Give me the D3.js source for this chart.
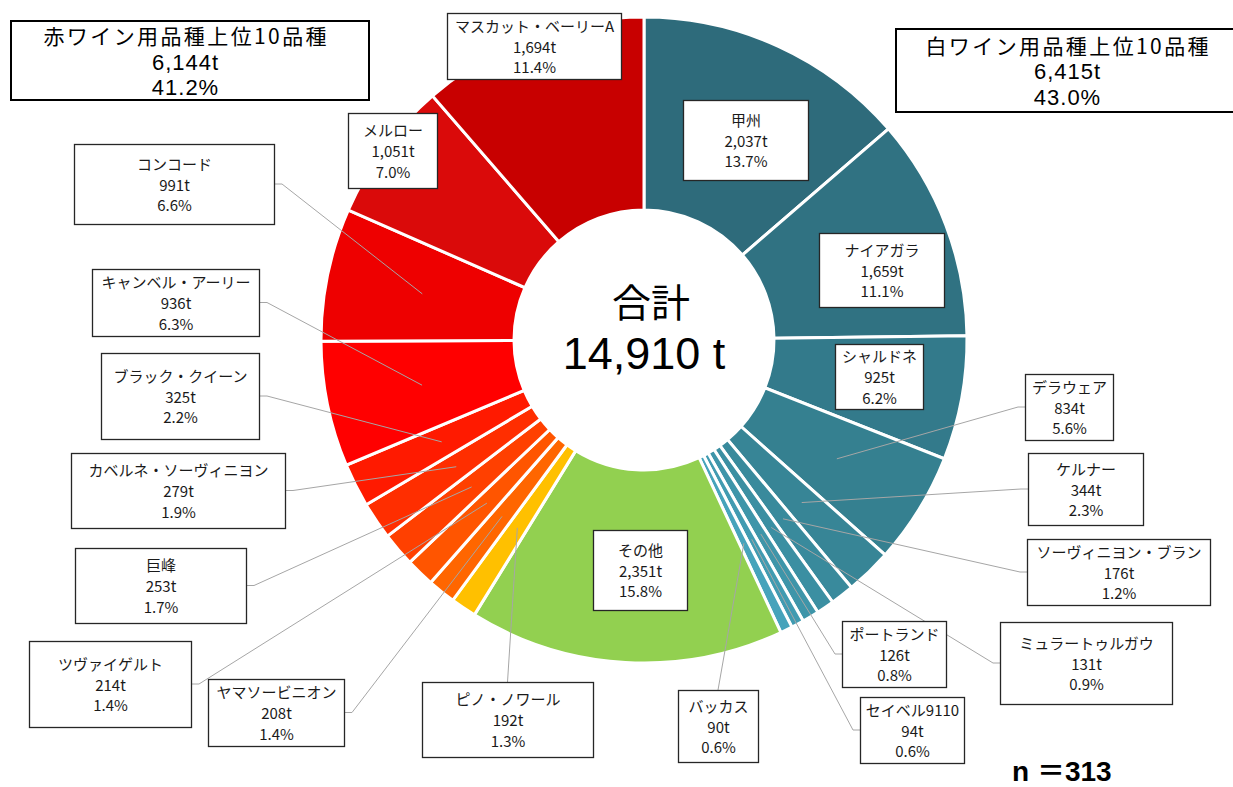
<!DOCTYPE html>
<html><head><meta charset="utf-8">
<script src="https://cdn.jsdelivr.net/npm/d3@7"></script>
<style>
html,body{margin:0;padding:0;background:#fff;}
svg{display:block;font-family:"Noto Sans CJK JP","Noto Sans",sans-serif;}
</style></head>
<body>
<svg id="chart" width="1233" height="787"></svg>
<script>
// ---- data (clockwise from 12 o'clock) ----
const varieties = ["甲州","ナイアガラ","シャルドネ","デラウェア","ケルナー","ソーヴィニヨン・ブラン","ミュラートゥルガウ","ポートランド","セイベル9110","バッカス","その他","ピノ・ノワール","ヤマソービニオン","ツヴァイゲルト","巨峰","カベルネ・ソーヴィニヨン","ブラック・クイーン","キャンベル・アーリー","コンコード","メルロー","マスカット・ベーリーA"];
const tonnage = [2037,1659,925,834,344,176,131,126,94,90,2351,192,208,214,253,279,325,936,991,1051,1694];
const groupNames = ["赤ワイン用品種上位10品種","白ワイン用品種上位10品種"];
const groupTotals = [6144,6415];
const totalLabel = "合計";
const sampleSize = 313;

// ---- styles ----
const sliceColors = ["#2E6B7B","#307282","#337A8B","#358090","#378596","#398A9C","#3B8FA2","#3E95A9","#419BB1","#46A3BB",
  "#92D050",
  "#FFC000","#FF6600","#FF5500","#FF4000","#FF2E00","#FF1A00","#FF0000","#EE0000","#DA0A0A","#C80000"];
const latinFont = "'Liberation Sans','Noto Sans CJK JP',sans-serif";

// ---- label layout: [x, y, w, h], leader side ----
const labelLayout = [
  {box:[683,100,125,80], leader:null},
  {box:[819,233,125,74], leader:null},
  {box:[835,344,88,65], leader:null},
  {box:[1025,374,88,66], leader:"left"},
  {box:[1028,453,115,72], leader:"left"},
  {box:[1027,539,183,66], leader:"left"},
  {box:[1000,622,172,82], leader:"left"},
  {box:[842,621,104,66], leader:"left"},
  {box:[860,697,104,66], leader:"left"},
  {box:[678,690,80,72], leader:"top"},
  {box:[593,530,94,80], leader:null},
  {box:[422,682,171,75], leader:"top"},
  {box:[208,679,136,67], leader:"right"},
  {box:[29,641,162,86], leader:"right"},
  {box:[75,548,171,75], leader:"right"},
  {box:[71,453,214,75], leader:"right"},
  {box:[101,353,158,86], leader:"right"},
  {box:[92,269,167,67], leader:"right"},
  {box:[74,144,200,80], leader:"right"},
  {box:[348,113,89,75], leader:null},
  {box:[447,13,174,66], leader:null}
];
const headerLayout = [
  {box:[10,20,358,79], tx:185, ys:[35,62,87]},
  {box:[895,28,350,83], tx:1067, ys:[45,71,97]}
];

const svg = d3.select("#chart");
const cx = 644, cy = 340, rOuter = 323, rInner = 130;
const total = d3.sum(tonnage);
const fmtInt = d3.format(",");
const fmtPct = d3.format(".1f");

const data = varieties.map((name,i)=>({name, value:tonnage[i], i}));
const pie = d3.pie().sort(null).value(d=>d.value).startAngle(0).endAngle(2*Math.PI);
const arcs = pie(data);
const arc = d3.arc().innerRadius(rInner).outerRadius(rOuter);

const g = svg.append("g").attr("transform",`translate(${cx},${cy})`);
g.selectAll("path.slice").data(arcs).join("path")
  .attr("class","slice")
  .attr("d",arc)
  .attr("fill",d=>sliceColors[d.data.i])
  .attr("stroke","#fff").attr("stroke-width",3).attr("stroke-linejoin","miter");

// center text
g.append("text").attr("x",7).attr("y",-40).attr("text-anchor","middle")
  .attr("dominant-baseline","central").attr("font-size",39).attr("fill","#000").text(totalLabel);
g.append("text").attr("x",0).attr("y",29).attr("text-anchor","middle")
  .style("font-family",latinFont).attr("font-size",45).attr("fill","#000")
  .text(fmtInt(total)+" t");

// leaders
const leaderG = svg.append("g");
arcs.forEach(a=>{
  const L = labelLayout[a.data.i];
  if(!L.leader) return;
  const [x,y,w,h] = L.box;
  const c = arc.centroid(a);
  const px = cx + c[0], py = cy + c[1];
  let pts;
  if(L.leader==="left"){ const ay=y+h/2; pts=[[x,ay],[x-7,ay],[px,py]]; }
  else if(L.leader==="right"){ const ay=y+h/2; pts=[[x+w,ay],[x+w+8,ay],[px,py]]; }
  else { pts=[[x+w/2,y],[px,py]]; }
  leaderG.append("path").attr("d",d3.line()(pts))
    .attr("fill","none").attr("stroke","#A6A6A6").attr("stroke-width",1);
});

// label boxes
const labG = svg.append("g");
arcs.forEach(a=>{
  const L = labelLayout[a.data.i];
  const [x,y,w,h] = L.box;
  const gg = labG.append("g");
  gg.append("rect").attr("x",x+0.5).attr("y",y+0.5).attr("width",w).attr("height",h)
    .attr("fill","#fff").attr("stroke","#262626").attr("stroke-width",1.3);
  const lines = [a.data.name, fmtInt(a.data.value)+"t", fmtPct(a.data.value/total*100)+"%"];
  const mid = y + h/2;
  lines.forEach((t,k)=>{
    gg.append("text").attr("x",x+w/2+0.5).attr("y",mid+(k-1)*20.7)
      .attr("text-anchor","middle").attr("dominant-baseline","central")
      .attr("font-size",15).attr("fill","#1a1a1a").text(t);
  });
});

// group header boxes
groupNames.forEach((nm,i)=>{
  const H = headerLayout[i];
  const [x,y,w,h] = H.box;
  svg.append("rect").attr("x",x+1).attr("y",y+1).attr("width",w).attr("height",h)
    .attr("fill","#fff").attr("stroke","#000").attr("stroke-width",2);
  svg.append("text").attr("x",H.tx+1.2).attr("y",H.ys[0])
    .attr("text-anchor","middle").attr("dominant-baseline","central")
    .attr("font-size",21).attr("letter-spacing",2.4).attr("fill","#000").text(nm);
  [fmtInt(groupTotals[i])+"t", fmtPct(groupTotals[i]/total*100)+"%"].forEach((t,k)=>{
    svg.append("text").attr("x",H.tx+0.5).attr("y",H.ys[k+1])
      .attr("text-anchor","middle").attr("dominant-baseline","central")
      .style("font-family",latinFont).attr("font-size",22).attr("letter-spacing",1)
      .attr("fill","#000").text(t);
  });
});

// sample size
svg.append("text").attr("x",1012).attr("y",781).attr("font-size",28).attr("font-weight","bold")
  .style("font-family",latinFont).attr("fill","#000").text("n ＝"+sampleSize);
</script>
</body></html>
